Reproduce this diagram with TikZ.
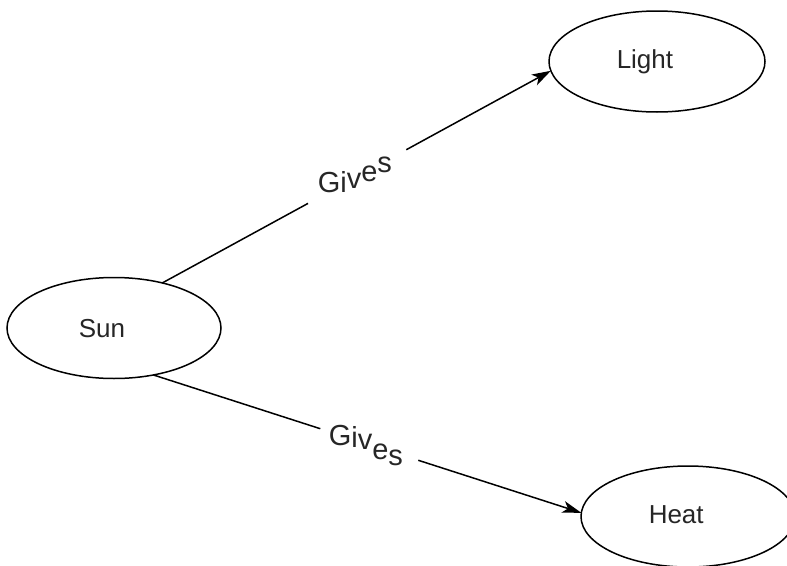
\documentclass[tikz,border=0pt]{standalone}
\usepackage{fontspec}
\setmainfont{Liberation Sans}
\usetikzlibrary{shapes.geometric,arrows.meta,calc}
\begin{document}
\begin{tikzpicture}[x=1pt,y=-1pt, line width=1.5pt,
  bubble/.style={ellipse, draw, minimum width=214pt, minimum height=101pt, inner sep=0pt, outer sep=0pt},
  lbl/.style={font=\fontsize{26}{30}\selectfont, anchor=base west, inner sep=0pt, text=black!85},
  rel/.style={font=\fontsize{29}{33}\selectfont, anchor=base west, inner sep=0pt, text=black!85},
  conn/.style={-{Stealth[length=19pt,width=12pt,inset=5pt]}}]
\useasboundingbox (0,0) rectangle (787,565);
\node[bubble] (sun) at (114,328) {};
\node[bubble, minimum width=216pt] (light) at (657,61.5) {};
\node[bubble] (heat) at (688,516.5) {};
\node[lbl] (tsun) at (78,337) {Sun};
\node[lbl] (tlight) at (616,68) {Light};
\node[lbl] (theat) at (648,523) {Heat};
% upper connector
\draw (sun.43) -- ($(sun.43)!0.375!(light.185)$);
\draw[conn] ($(sun.43)!0.628!(light.185)$) -- (light.185);
\node[rel] (g1) at (317,192) {Gi\raisebox{4pt}{v}\raisebox{11pt}{e}\raisebox{20pt}{s}};
% lower connector
\draw (sun.-50) -- ($(sun.-50)!0.39!(heat.178)$);
\draw[conn] ($(sun.-50)!0.619!(heat.178)$) -- (heat.178);
\node[rel] (g2) at (328,445) {G\raisebox{-2pt}{i}\raisebox{-4pt}{v}\raisebox{-14pt}{e}\raisebox{-20pt}{s}};
\end{tikzpicture}
\end{document}
